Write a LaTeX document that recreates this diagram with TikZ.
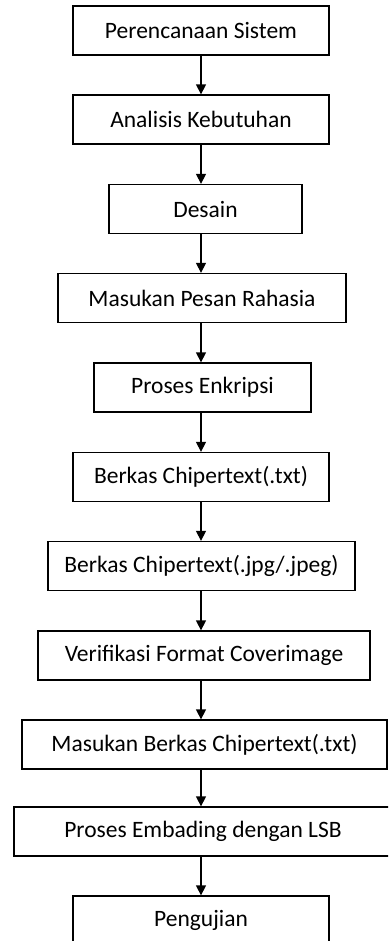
\documentclass[tikz,border=0pt]{standalone}
\usepackage{fontspec}
\setmainfont{Carlito}
\usetikzlibrary{arrows.meta}

\begin{document}
\begin{tikzpicture}[x=1bp, y=-1bp, >={Triangle[width=10bp,length=10bp]},
        box/.style={rectangle, draw, line width=1.3bp, minimum height=49bp, inner sep=0pt, font=\fontsize{23.5bp}{27bp}\selectfont},
        flow/.style={->, line width=1.3bp}]
        \clip (0,0) rectangle (388,941);
        \coordinate (spine) at (201,0);

        \node[box, minimum width=256bp] (rencana) at (201,30.5) {Perencanaan Sistem};
        \node[box, minimum width=256bp] (analisis) at (201,119.5) {Analisis Kebutuhan};
        \node[box, minimum width=193bp] (desain) at (205.5,209) {Desain};
        \node[box, minimum width=288bp] (pesan) at (202,298) {Masukan Pesan Rahasia};
        \node[box, minimum width=217bp] (enkripsi) at (202.5,387.5) {Proses Enkripsi};
        \node[box, minimum width=256bp] (txt) at (201,477) {Berkas Chipertext(.txt)};
        \node[box, minimum width=307bp] (jpg) at (201.5,566) {Berkas Chipertext(.jpg/.jpeg)};
        \node[box, minimum width=332bp] (verifikasi) at (204,655.5) {Verifikasi Format Coverimage};
        \node[box, minimum width=365bp] (masukan) at (204.5,744.5) {Masukan Berkas Chipertext(.txt)};
        \node[box, minimum width=378bp] (embed) at (203,831.5) {Proses Embading dengan LSB};
        \node[box, minimum width=256bp] (uji) at (201,920.5) {Pengujian};

        \draw[flow] (rencana.south -| spine) -- (analisis.north -| spine);
        \draw[flow] (analisis.south -| spine) -- (desain.north -| spine);
        \draw[flow] (desain.south -| spine) -- (pesan.north -| spine);
        \draw[flow] (pesan.south -| spine) -- (enkripsi.north -| spine);
        \draw[flow] (enkripsi.south -| spine) -- (txt.north -| spine);
        \draw[flow] (txt.south -| spine) -- (jpg.north -| spine);
        \draw[flow] (jpg.south -| spine) -- (verifikasi.north -| spine);
        \draw[flow] (verifikasi.south -| spine) -- (masukan.north -| spine);
        \draw[flow] (masukan.south -| spine) -- (embed.north -| spine);
        \draw[flow] (embed.south -| spine) -- (uji.north -| spine);

    \end{tikzpicture}
\end{document}
